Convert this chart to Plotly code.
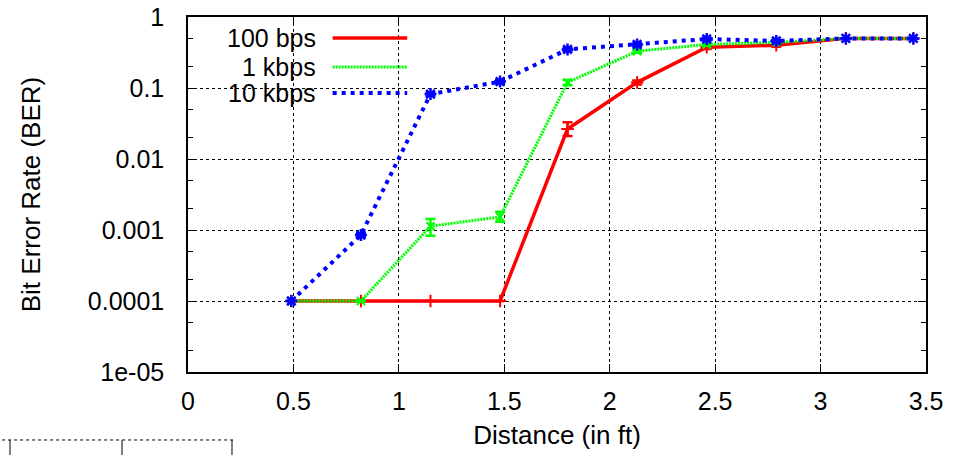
import plotly.graph_objects as go

distance_ft = [0.49, 0.82, 1.15, 1.48, 1.80, 2.13, 2.46, 2.79, 3.12, 3.44]

ber_100bps = [1e-4, 1e-4, 1e-4, 1e-4, 0.0265, 0.12, 0.375, 0.40, 0.50, 0.50]
err_100bps_plus = [0, 0, 0, 0, 0.0065, 0.008, 0.02, 0.02, 0, 0]
err_100bps_minus = [0, 0, 0, 0, 0.0055, 0.008, 0.02, 0.02, 0, 0]

ber_1kbps = [1e-4, 1e-4, 0.00113, 0.00153, 0.12, 0.33, 0.41, 0.44, 0.50, 0.50]
err_1kbps_plus = [0, 0, 0.0003, 0.00027, 0.01, 0.015, 0.01, 0.01, 0, 0]
err_1kbps_minus = [0, 0, 0.0003, 0.00022, 0.01, 0.015, 0.01, 0.01, 0, 0]

ber_10kbps = [1e-4, 0.00085, 0.082, 0.123, 0.35, 0.41, 0.49, 0.46, 0.50, 0.50]
err_10kbps = [0, 0.00005, 0.004, 0.006, 0.02, 0.015, 0.01, 0.01, 0, 0]

series_names = ["100 bps", "1 kbps", "10 kbps"]
colors = ["#ff0000", "#00ff00", "#0000ff"]

x_ticks = [0, 0.5, 1, 1.5, 2, 2.5, 3, 3.5]
x_tick_text = ["0", "0.5", "1", "1.5", "2", "2.5", "3", "3.5"]
y_ticks = [1e-5, 1e-4, 1e-3, 1e-2, 1e-1, 1]
y_tick_text = ["1e-05", "0.0001", "0.001", "0.01", "0.1", "1"]

FONT = "Liberation Sans, Arial, sans-serif"

fig = go.Figure()

fig.add_trace(go.Scatter(
    x=distance_ft, y=ber_100bps, mode="lines+markers", name=series_names[0],
    line=dict(color=colors[0], width=3.5),
    marker=dict(symbol="cross-thin", size=9, line=dict(color=colors[0], width=2)),
    error_y=dict(type="data", array=err_100bps_plus, arrayminus=err_100bps_minus,
                 color=colors[0], thickness=2.5, width=5),
    showlegend=False,
))
fig.add_trace(go.Scatter(
    x=distance_ft, y=ber_1kbps, mode="lines+markers", name=series_names[1],
    line=dict(color=colors[1], width=3, dash="2px,1px"),
    marker=dict(symbol="x-thin", size=8, line=dict(color=colors[1], width=2)),
    error_y=dict(type="data", array=err_1kbps_plus, arrayminus=err_1kbps_minus,
                 color=colors[1], thickness=2.5, width=5),
    showlegend=False,
))
fig.add_trace(go.Scatter(
    x=distance_ft, y=ber_10kbps, mode="lines+markers", name=series_names[2],
    line=dict(color=colors[2], width=4, dash="4px,5px"),
    marker=dict(symbol="asterisk", size=10, line=dict(color=colors[2], width=2.5)),
    error_y=dict(type="data", array=err_10kbps, color=colors[2], thickness=2.5, width=5),
    showlegend=False,
))

# manual legend (text right-aligned, line sample to the right)
legend_rows = [0.941, 0.859, 0.786]
legend_dash = ["solid", "2px,1px", "4px,5px"]
legend_width = [3.5, 3, 4]
shapes = []
annotations = []
for name, col, yy, dsh, w in zip(series_names, colors, legend_rows, legend_dash, legend_width):
    annotations.append(dict(x=0.176, y=yy, xref="paper", yref="paper", text=name,
                            showarrow=False, xanchor="right", yanchor="middle",
                            font=dict(family=FONT, size=25, color="black")))
    shapes.append(dict(type="line", xref="paper", yref="paper", x0=0.196, x1=0.297,
                       y0=yy, y1=yy, line=dict(color=col, width=w, dash=dsh)))

# fragment of a neighbouring figure visible at bottom-left
frag_y0 = -0.1915
frag_y1 = -0.25
shapes.append(dict(type="line", xref="paper", yref="paper", x0=-0.26, x1=0.061,
                   y0=frag_y0, y1=frag_y0, line=dict(color="black", width=1, dash="dot")))
for fx in [-0.2412, -0.0894, 0.0596]:
    shapes.append(dict(type="line", xref="paper", yref="paper", x0=fx, x1=fx,
                       y0=frag_y0, y1=frag_y1, line=dict(color="black", width=1)))

fig.update_layout(
    width=963, height=455,
    margin=dict(l=188, r=37, t=17, b=83),
    paper_bgcolor="white", plot_bgcolor="white",
    font=dict(family=FONT, size=25, color="black"),
    shapes=shapes, annotations=annotations,
)

fig.update_xaxes(
    range=[0, 3.5], tickvals=x_ticks, ticktext=x_tick_text,
    ticks="inside", ticklen=8, tickwidth=1, tickcolor="black",
    showline=True, linecolor="black", linewidth=1.5, mirror="allticks",
    showgrid=True, gridcolor="black", griddash="dot", gridwidth=1,
    zeroline=False, ticklabelstandoff=6, automargin=False,
    title=dict(text="Distance (in ft)", font=dict(family=FONT, size=26), standoff=12),
    tickfont=dict(family=FONT, size=25),
)
fig.update_yaxes(
    type="log", range=[-5.0001, 0.0001], tickvals=y_ticks, ticktext=y_tick_text,
    ticks="inside", ticklen=8, tickwidth=1, tickcolor="black",
    minor=dict(ticks="inside", ticklen=5, dtick="D2", tickcolor="black", showgrid=False),
    showline=True, linecolor="black", linewidth=1.5, mirror="allticks",
    showgrid=True, gridcolor="black", griddash="dot", gridwidth=1,
    zeroline=False, ticklabelstandoff=17, automargin=False, ticklabeloverflow="allow",
    title=dict(text="Bit Error Rate (BER)", font=dict(family=FONT, size=26), standoff=40),
    tickfont=dict(family=FONT, size=25),
)

# remove the browser's default 8px body margin so the figure sits at the page origin
fig.write_html("out.html", config={"displayModeBar": False},
               post_script="document.body.style.margin='0';")
